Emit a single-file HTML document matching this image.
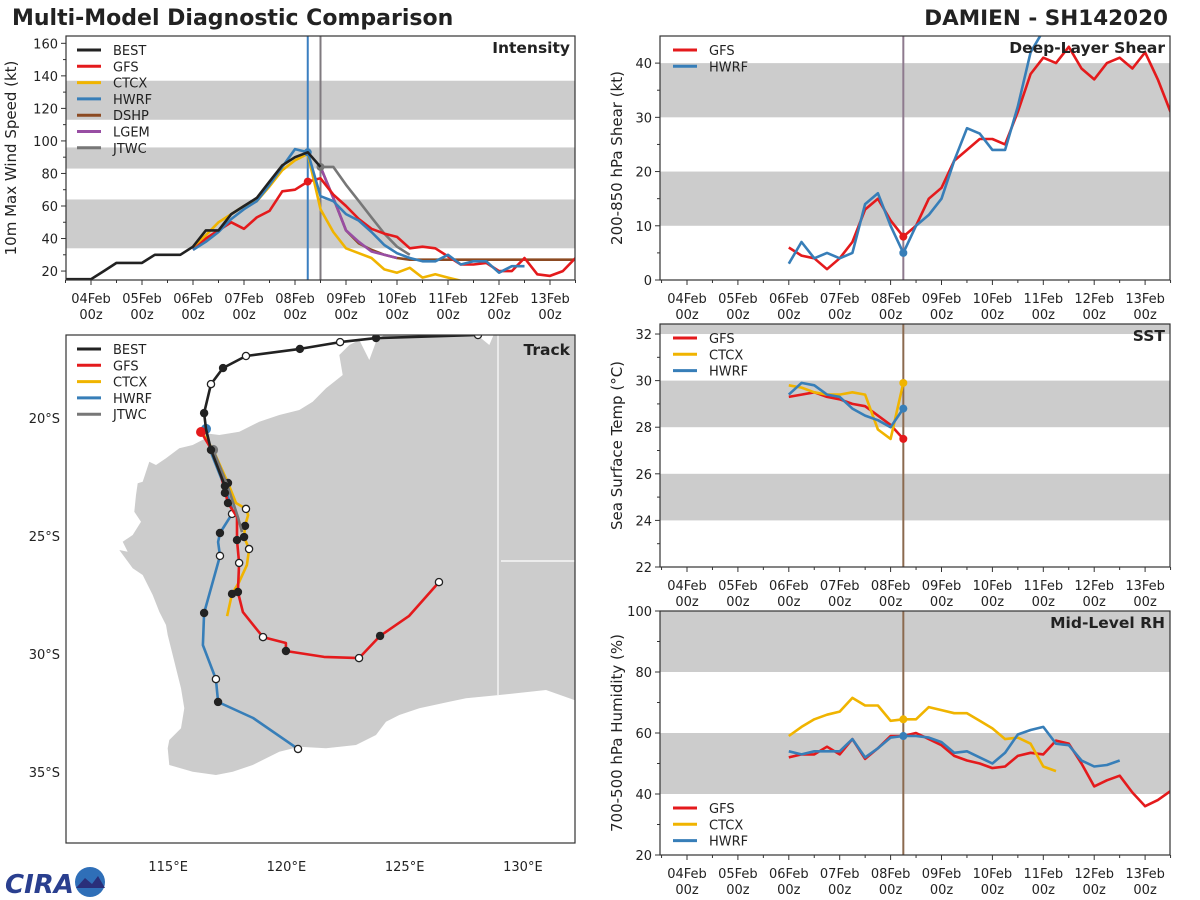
<!DOCTYPE html>
<html><head><meta charset="utf-8">
<style>
body{margin:0;background:#fff;}
svg{display:block;font-family:"DejaVu Sans","Liberation Sans",sans-serif;}
</style></head>
<body>
<svg id="root" width="1200" height="900" viewBox="0 0 1200 900" xmlns="http://www.w3.org/2000/svg">
<text x="12" y="25" font-size="22" font-weight="bold" fill="#222">Multi-Model Diagnostic Comparison</text>
<text x="1168" y="25" font-size="21.5" font-weight="bold" fill="#222" text-anchor="end">DAMIEN - SH142020</text>
<g>
<text x="5" y="893" font-size="26" font-weight="bold" fill="#2a3f8f" font-style="italic">CIRA</text>
<circle cx="90" cy="882" r="15" fill="#2f6fb8"/>
<path d="M76,888 L85,878 L92,884 L98,876 L105,888 Z" fill="#2a2f7a"/>
</g>
</svg>
<script>
const NS='http://www.w3.org/2000/svg';
const root=document.getElementById('root');
function mk(tag,attrs,parent){const e=document.createElementNS(NS,tag);for(const k in attrs)e.setAttribute(k,attrs[k]);(parent||root).appendChild(e);return e;}

const COLORS={BEST:'#222222',GFS:'#e41a1c',CTCX:'#f0b400',HWRF:'#377eb8',DSHP:'#8c4a22',LGEM:'#984ea3',JTWC:'#777777'};
const dayLabels=['04Feb','05Feb','06Feb','07Feb','08Feb','09Feb','10Feb','11Feb','12Feb','13Feb'];

// ===== Intensity data (hours from 04Feb 00z) =====
const intBestH=[-12,-6,0,6,12,18,24,30,36,42,48,54,60,66,72,78,84,90,96,102,108];
const intBestV=[15,15,15,20,25,25,25,30,30,30,35,45,45,55,60,65,75,85,90,93,84];
const intGfsH=[48,54,60,66,72,78,84,90,96,102,108,114,120,126,132,138,144,150,156,162,168,174,180,186,192,198,204,210,216,222,228];
const intGfsV=[33,40,45,50,46,53,57,69,70,75,77,67,60,52,46,43,41,34,35,34,29,24,24,25,20,20,28,18,17,20,28];
const intCtcxH=[48,54,60,66,72,78,84,90,96,102,108,114,120,126,132,138,144,150,156,162,168,174];
const intCtcxV=[35,42,50,55,60,63,72,82,88,92,58,44,34,31,28,21,19,22,16,18,16,14];
const intHwrfH=[48,54,60,66,72,78,84,90,96,102,108,114,120,126,132,138,144,150,156,162,168,174,180,186,192,198,204];
const intHwrfV=[33,38,44,52,58,63,73,84,95,93,66,63,55,51,44,36,31,28,26,26,30,24,26,26,19,23,23];
const intDshpH=[108,114,120,126,132,138,144,150,156,162,168,174,180,186,192,198,204,210,216,222,228];
const intDshpV=[84,65,45,37,33,30,28,27,27,27,27,27,27,27,27,27,27,27,27,27,27];
const intLgemH=[108,114,120,126,132,138,144];
const intLgemV=[84,65,45,38,32,30,28];
const intJtwcH=[108,114,120,126,132,138,144,150];
const intJtwcV=[84,84,73,63,53,43,35,30];

// ===== Shear =====
const shrGfsH=[48,54,60,66,72,78,84,90,96,102,108,114,120,126,132,138,144,150,156,162,168,174,180,186,192,198,204,210,216,222,228];
const shrGfsV=[6,4.5,4,2,4,7,13,15,11,8,10,15,17,22,24,26,26,25,31,38,41,40,43,39,37,40,41,39,42,37,31];
const shrHwrfH=[48,54,60,66,72,78,84,90,96,102,108,114,120,126,132,138,144,150,156,162,168];
const shrHwrfV=[3,7,4,5,4,5,14,16,10,5,10,12,15,22,28,27,24,24,32,42,46];

// ===== SST =====
const sstH=[48,54,60,66,72,78,84,90,96,102];
const sstGfsV=[29.3,29.4,29.5,29.3,29.2,29.0,28.9,28.5,28.1,27.5];
const sstCtcxV=[29.8,29.7,29.5,29.4,29.4,29.5,29.4,27.9,27.5,29.9];
const sstHwrfV=[29.4,29.9,29.8,29.4,29.3,28.8,28.5,28.3,28.0,28.8];

// ===== RH =====
const rhGfsH=[48,54,60,66,72,78,84,90,96,102,108,114,120,126,132,138,144,150,156,162,168,174,180,186,192,198,204,210,216,222,228];
const rhGfsV=[52,53,53,55.5,53,58,51.5,55,59,59,60,58,56,52.5,51,50,48.5,49,52.5,53.5,53,57.5,56.5,50,42.5,44.5,46,40.5,36,38,41];
const rhCtcxH=[48,54,60,66,72,78,84,90,96,102,108,114,120,126,132,138,144,150,156,162,168,174];
const rhCtcxV=[59,62,64.5,66,67,71.5,69,69,64,64.5,64.5,68.5,67.5,66.5,66.5,64,61.5,58,58.5,56.5,49,47.5];
const rhHwrfH=[48,54,60,66,72,78,84,90,96,102,108,114,120,126,132,138,144,150,156,162,168,174,180,186,192,198,204];
const rhHwrfV=[54,53,54,54,54,58,52,55,58.5,59,59,58.5,57,53.5,54,52,50,53.5,59.5,61,62,56.5,56,51,49,49.5,51];

// ===== Track (lon E, lat S) =====
const trkBestLon=[130.2,128.10,123.79,122.27,120.57,118.29,117.32,116.81,116.52,116.60,116.81,117.40,117.40];
const trkBestLat=[16.1,16.48,16.61,16.78,17.07,17.37,17.88,18.56,19.79,20.46,21.35,22.88,23.17];
const trkBestMk=[0,1,2,1,2,1,2,1,2,0,2,2,2];
const trkGfsLon=[116.39,116.90,117.23,117.53,117.91,117.91,118.00,117.95,118.16,119.01,119.98,119.98,121.59,123.07,123.96,125.18,126.45];
const trkGfsLat=[20.59,21.44,22.41,23.60,24.19,25.17,26.14,27.37,28.22,29.28,29.53,29.87,30.12,30.17,29.23,28.39,26.95];
const trkGfsMk=[3,0,0,2,0,2,1,2,0,1,0,2,0,1,2,0,1];
const trkCtcxLon=[116.43,116.90,117.53,117.87,118.29,118.38,118.25,118.21,118.42,118.33,118.00,117.70,117.49];
const trkCtcxLat=[20.59,21.35,22.75,23.60,23.85,24.11,24.57,25.04,25.55,26.23,26.95,27.45,28.39];
const trkCtcxMk=[0,0,2,0,1,0,2,2,1,0,0,2,0];
const trkHwrfLon=[116.60,116.77,117.36,117.70,117.70,117.19,117.11,117.19,116.52,116.47,117.02,117.11,118.59,120.49];
const trkHwrfLat=[20.46,21.35,22.84,23.81,24.06,24.87,25.25,25.84,28.26,29.62,31.06,32.03,32.71,34.02];
const trkHwrfMk=[3,0,0,0,1,2,0,1,2,0,1,2,0,1];
const trkJtwcLon=[116.90,117.53,117.95,118.12];
const trkJtwcLat=[21.35,22.92,24.19,24.83];
const trkJtwcMk=[3,0,0,0];

// ---------- generic time panel ----------
function timePanel(cfg){
  const g=mk('g',{});
  
  
  const L=cfg.x0,R=cfg.x1,T=cfg.y0,B=cfg.y1;
  const xs=h=>cfg.xOrigin+h*cfg.pxPerH;
  const ys=v=>B-(v-cfg.vmin)/(cfg.vmax-cfg.vmin)*(B-T);
  const clip=mk('clipPath',{id:cfg.name+'-clip'},g);
  mk('rect',{x:L,y:T,width:R-L,height:B-T},clip);
  cfg.bands.forEach(b=>{
    const r=mk('rect',{x:L,y:ys(Math.min(b[1],cfg.vmax)),width:R-L,height:ys(b[0])-ys(Math.min(b[1],cfg.vmax)),fill:'#cccccc'},g);
    
    
  });
  cfg.vlines.forEach(v=>{
    const l=mk('line',{x1:xs(v[0]),x2:xs(v[0]),y1:T,y2:B,stroke:v[1],'stroke-width':2},g);
    
    
  });
  const sg=mk('g',{'clip-path':'url(#'+cfg.name+'-clip)'},g);
  cfg.series.forEach(s=>{
    const pts=s.h.map((h,i)=>xs(h).toFixed(1)+','+ys(s.v[i]).toFixed(1)).join(' ');
    const pl=mk('polyline',{points:pts,fill:'none',stroke:COLORS[s.k],'stroke-width':2.6,'stroke-linejoin':'round'},sg);
    
    
    if(s.dot!==undefined){
      const i=s.h.indexOf(s.dot);
      if(i>=0){const c=mk('circle',{cx:xs(s.h[i]),cy:ys(s.v[i]),r:4,fill:COLORS[s.k]},sg);
        
        }
    }
  });
  mk('rect',{x:L,y:T,width:R-L,height:B-T,fill:'none',stroke:'#333','stroke-width':1.2},g);
  cfg.yticks.forEach(t=>{
    const y=ys(t);
    mk('line',{x1:L-5,x2:L,y1:y,y2:y,stroke:'#333'},g);
    const tx=mk('text',{x:L-8,y:y+5,'font-size':13,'text-anchor':'end',fill:'#222'},g);
    tx.textContent=t;
    
    
  });
  cfg.yminor.forEach(t=>{const y=ys(t);mk('line',{x1:L-3,x2:L,y1:y,y2:y,stroke:'#333'},g);});
  dayLabels.forEach((d,i)=>{
    const x=xs(i*24);
    mk('line',{x1:x,x2:x,y1:B,y2:B+5,stroke:'#333'},g);
    mk('line',{x1:xs(i*24+12),x2:xs(i*24+12),y1:B,y2:B+3,stroke:'#333'},g);
    const t1=mk('text',{x:x,y:B+23,'font-size':13,'text-anchor':'middle',fill:'#222'},g);
    t1.textContent=d;
    
    
    const t2=mk('text',{x:x,y:B+39,'font-size':13,'text-anchor':'middle',fill:'#222'},g);
    t2.textContent='00z';
    
    
  });
  mk('line',{x1:xs(-12),x2:xs(-12),y1:B,y2:B+3,stroke:'#333'},g);
  const yl=mk('text',{x:0,y:0,'font-size':15,'text-anchor':'middle',fill:'#222',transform:'translate('+cfg.ylabX+','+((T+B)/2)+') rotate(-90)'},g);
  yl.textContent=cfg.ylabel;
  
  
  const pt=mk('text',{x:R-5,y:T+17,'font-size':15.5,'font-weight':'bold','text-anchor':'end',fill:'#222'},g);
  pt.textContent=cfg.title;
  
  
  legend(g,cfg.legend,cfg.legX,cfg.legY);
}
function legend(g,keys,x,y){
  const lg=mk('g',{},g);
  
  
  keys.forEach((k,i)=>{
    const yy=y+i*16.3;
    mk('line',{x1:x,x2:x+24,y1:yy,y2:yy,stroke:COLORS[k],'stroke-width':3},lg);
    const t=mk('text',{x:x+36,y:yy+5,'font-size':13,fill:'#222'},lg);
    t.textContent=k;
    
    
  });
}

timePanel({name:'intensity',x0:66,x1:575,y0:36,y1:280,xOrigin:91,pxPerH:51/24,vmin:14.5,vmax:164.5,
  bands:[[34,64],[83,96],[113,137]],vlines:[[102,'#3a7fc0'],[108,'#7f7a7f']],
  series:[{k:'DSHP',h:intDshpH,v:intDshpV},{k:'LGEM',h:intLgemH,v:intLgemV},{k:'JTWC',h:intJtwcH,v:intJtwcV,dot:108},
    {k:'GFS',h:intGfsH,v:intGfsV,dot:102},{k:'CTCX',h:intCtcxH,v:intCtcxV},{k:'HWRF',h:intHwrfH,v:intHwrfV,dot:102},{k:'BEST',h:intBestH,v:intBestV}],
  yticks:[20,40,60,80,100,120,140,160],yminor:[30,50,70,90,110,130,150],ylabel:'10m Max Wind Speed (kt)',ylabX:16,title:'Intensity',
  legend:['BEST','GFS','CTCX','HWRF','DSHP','LGEM','JTWC'],legX:77,legY:50});

timePanel({name:'shear',x0:660,x1:1170,y0:36,y1:280,xOrigin:687,pxPerH:50.9/24,vmin:0,vmax:45,
  bands:[[10,20],[30,40]],vlines:[[102,'#8e7a8e']],
  series:[{k:'GFS',h:shrGfsH,v:shrGfsV,dot:102},{k:'HWRF',h:shrHwrfH,v:shrHwrfV,dot:102}],
  yticks:[0,10,20,30,40],yminor:[5,15,25,35],ylabel:'200-850 hPa Shear (kt)',ylabX:622,title:'Deep-Layer Shear',
  legend:['GFS','HWRF'],legX:673,legY:50});

timePanel({name:'sst',x0:660,x1:1170,y0:324,y1:567,xOrigin:687,pxPerH:50.9/24,vmin:22,vmax:32.43,
  bands:[[24,26],[28,30],[32,33]],vlines:[[102,'#8b6a4f']],
  series:[{k:'GFS',h:sstH,v:sstGfsV,dot:102},{k:'CTCX',h:sstH,v:sstCtcxV,dot:102},{k:'HWRF',h:sstH,v:sstHwrfV,dot:102}],
  yticks:[22,24,26,28,30,32],yminor:[23,25,27,29,31],ylabel:'Sea Surface Temp (°C)',ylabX:622,title:'SST',
  legend:['GFS','CTCX','HWRF'],legX:673,legY:338});

timePanel({name:'rh',x0:660,x1:1170,y0:611,y1:855,xOrigin:687,pxPerH:50.9/24,vmin:20,vmax:100,
  bands:[[40,60],[80,100]],vlines:[[102,'#8b6a4f']],
  series:[{k:'GFS',h:rhGfsH,v:rhGfsV},{k:'CTCX',h:rhCtcxH,v:rhCtcxV,dot:102},{k:'HWRF',h:rhHwrfH,v:rhHwrfV,dot:102}],
  yticks:[20,40,60,80,100],yminor:[30,50,70,90],ylabel:'700-500 hPa Humidity (%)',ylabX:622,title:'Mid-Level RH',
  legend:['GFS','CTCX','HWRF'],legX:673,legY:808});

// ---------- Track panel ----------
(function(){
  const L=66,R=575,T=335,B=843;
  const xs=lon=>66+(lon-110.68)*23.65;
  const ys=lat=>335+(lat-16.48)*23.6;
  const g=mk('g',{});
  
  
  const clip=mk('clipPath',{id:'trk-clip'},g);
  mk('rect',{x:L,y:T,width:R-L,height:B-T},clip);
  const cg=mk('g',{'clip-path':'url(#trk-clip)'},g);
  const coast=[[1540,-5],[1285,-5],[1270,30],[1240,5],[960,-5],[930,20],[910,75],[880,15],[850,30],[820,60],[830,120],[780,160],[740,200],[700,225],[640,240],[580,260],[520,290],[460,300],[430,296],[415,312],[380,330],[340,340],[300,370],[270,390],[250,380],[240,410],[230,440],[215,445],[210,480],[205,530],[225,560],[200,600],[170,620],[185,650],[160,645],[200,700],[230,720],[260,780],[280,830],[300,870],[305,900],[320,960],[330,1000],[345,1060],[355,1120],[345,1180],[310,1215],[305,1240],[310,1290],[380,1310],[450,1320],[500,1310],[560,1290],[640,1250],[700,1235],[780,1240],[870,1230],[930,1200],[960,1160],[1000,1140],[1060,1120],[1150,1100],[1200,1090],[1300,1080],[1440,1065],[1540,1100]];
  const land=mk('polygon',{points:coast.map(p=>(p[0]/3+66).toFixed(1)+','+(p[1]/3+335).toFixed(1)).join(' '),fill:'#cccccc'},cg);
  
  
  mk('line',{x1:498,x2:498,y1:335,y2:695,stroke:'#fff','stroke-width':1.2},cg);
  mk('line',{x1:501,x2:575,y1:561,y2:561,stroke:'#fff','stroke-width':1.2},cg);
  const tracks=[['HWRF',trkHwrfLon,trkHwrfLat,trkHwrfMk],['CTCX',trkCtcxLon,trkCtcxLat,trkCtcxMk],['GFS',trkGfsLon,trkGfsLat,trkGfsMk],['JTWC',trkJtwcLon,trkJtwcLat,trkJtwcMk],['BEST',trkBestLon,trkBestLat,trkBestMk]];
  tracks.forEach(t=>{
    const pts=t[1].map((lon,i)=>xs(lon).toFixed(1)+','+ys(t[2][i]).toFixed(1)).join(' ');
    const pl=mk('polyline',{points:pts,fill:'none',stroke:COLORS[t[0]],'stroke-width':2.6,'stroke-linejoin':'round'},cg);
    
    
    t[1].forEach((lon,i)=>{
      const m=t[3][i]; if(!m) return;
      const attrs=m===1?{r:3.6,fill:'#fff',stroke:'#222','stroke-width':1.3}:m===2?{r:4.2,fill:'#222'}:{r:5,fill:COLORS[t[0]]};
      attrs.cx=xs(lon);attrs.cy=ys(t[2][i]);
      const c=mk('circle',attrs,cg);
      
      
    });
  });
  mk('rect',{x:L,y:T,width:R-L,height:B-T,fill:'none',stroke:'#333','stroke-width':1.2},g);
  [115,120,125,130].forEach(lon=>{
    const t=mk('text',{x:xs(lon),y:871,'font-size':13,'text-anchor':'middle',fill:'#222'},g);
    t.textContent=lon+'°E';
    
    
  });
  [20,25,30,35].forEach(lat=>{
    const t=mk('text',{x:60,y:ys(lat)+5,'font-size':13,'text-anchor':'end',fill:'#222'},g);
    t.textContent=lat+'°S';
    
    
  });
  const pt=mk('text',{x:R-5,y:T+20,'font-size':15.5,'font-weight':'bold','text-anchor':'end',fill:'#222'},g);
  pt.textContent='Track';
  
  
  legend(g,['BEST','GFS','CTCX','HWRF','JTWC'],77,349);
})();
</script>
</body></html>
